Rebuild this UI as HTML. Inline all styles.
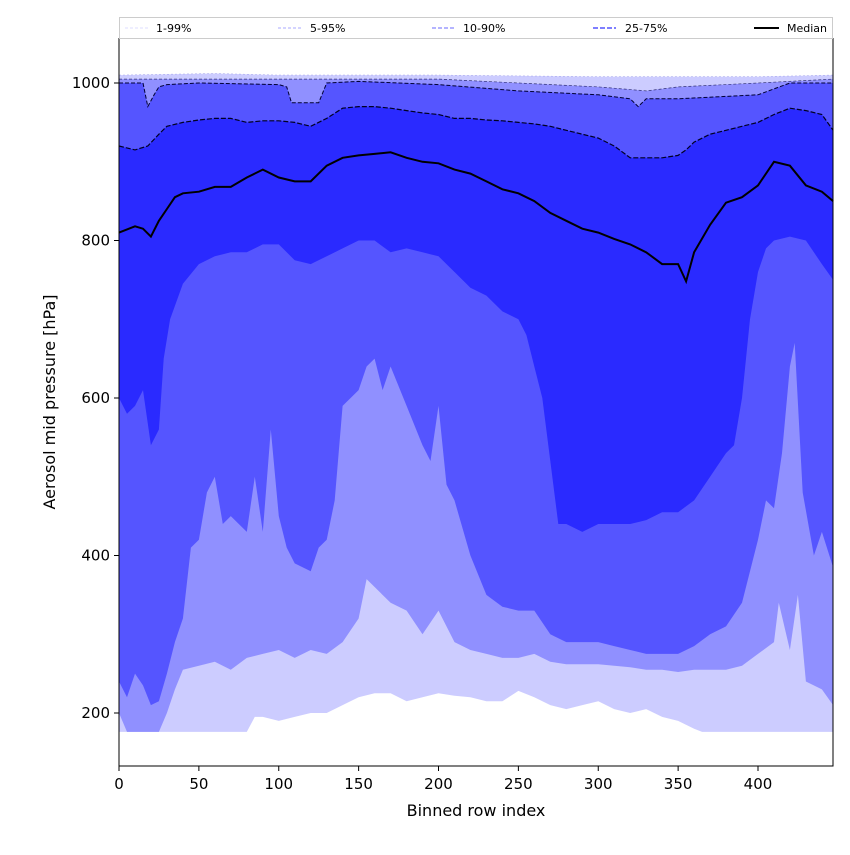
<!DOCTYPE html>
<html><head><meta charset="utf-8"><style>
body{margin:0;background:#fff;}
svg text{font-family:"DejaVu Sans","Liberation Sans",sans-serif;}
</style></head><body>
<svg id="c" width="850" height="850" xmlns="http://www.w3.org/2000/svg">
<g id="bands"></g>
<g id="lines"></g>
<rect x="119" y="38.5" width="714" height="727.5" fill="none" stroke="#000" stroke-width="1"/>
<g id="axes"></g>
<text x="476" y="816" font-size="16" text-anchor="middle">Binned row index</text>
<text transform="translate(55,402) rotate(-90)" font-size="16" text-anchor="middle">Aerosol mid pressure [hPa]</text>
<g>
<rect x="119.5" y="17.5" width="713" height="21" fill="#fff" stroke="#ccc"/>
<g><line x1="125" y1="28" x2="148" y2="28" stroke="#dcdcff" stroke-dasharray="3,2"/><text x="156" y="32" font-size="11">1-99%</text></g>
<g><line x1="278" y1="28" x2="301" y2="28" stroke="#aaaaff" stroke-dasharray="3,2"/><text x="310" y="32" font-size="11">5-95%</text></g>
<g><line x1="432" y1="28" x2="455" y2="28" stroke="#8888ff" stroke-width="1.3" stroke-dasharray="4,2"/><text x="463" y="32" font-size="11">10-90%</text></g>
<g><line x1="593" y1="28" x2="616" y2="28" stroke="#5555ff" stroke-width="1.6" stroke-dasharray="5,2"/><text x="625" y="32" font-size="11">25-75%</text></g>
<g><line x1="754" y1="28" x2="779" y2="28" stroke="#000" stroke-width="2"/><text x="787" y="32" font-size="11">Median</text></g>
</g>
</svg>
<script>
const xTicks=[0,50,100,150,200,250,300,350,400];
const yTicks=[200,400,600,800,1000];
const medX=[0,10,15,20,25,30,35,40,50,60,70,80,90,100,110,120,130,140,150,160,170,180,190,200,210,220,230,240,250,260,270,280,290,300,310,320,330,340,350,355,360,370,380,390,400,410,420,430,440,447];
const medV=[810,818,815,805,825,840,855,860,862,868,868,880,890,880,875,875,895,905,908,910,912,905,900,898,890,885,875,865,860,850,835,825,815,810,802,795,785,770,770,748,785,820,848,855,870,900,895,870,862,850];
const p75X=[0,10,18,25,30,40,50,60,70,80,90,100,110,120,130,140,150,160,170,180,190,200,210,220,230,240,250,260,270,280,290,300,310,320,330,340,350,355,360,370,380,390,400,410,420,430,440,447];
const p75V=[920,915,920,935,945,950,953,955,955,950,952,952,950,945,955,968,970,970,968,965,962,960,955,955,953,952,950,948,945,940,935,930,920,905,905,905,908,915,925,935,940,945,950,960,968,965,960,940];
const p90X=[0,15,18,22,25,30,50,100,105,108,112,125,130,150,200,250,300,320,325,330,350,400,420,447];
const p90V=[1000,1000,970,985,995,998,1000,998,995,975,975,975,1000,1002,998,990,985,980,970,980,980,985,1000,1000];
const p95X=[0,100,200,250,300,330,350,400,447];
const p95V=[1005,1005,1005,1000,995,990,995,1000,1005];
const p99X=[0,60,100,200,300,400,447];
const p99V=[1010,1012,1010,1010,1008,1008,1010];
const p25X=[0,5,10,15,20,25,28,32,40,50,60,70,80,90,100,110,120,130,140,150,160,170,180,190,200,210,220,230,240,250,255,260,265,270,275,280,290,300,310,320,330,340,350,360,370,380,385,390,395,400,405,410,420,430,440,447];
const p25V=[600,580,590,610,540,560,650,700,745,770,780,785,785,795,795,775,770,780,790,800,800,785,790,785,780,760,740,730,710,700,680,640,600,520,440,440,430,440,440,440,445,455,455,470,500,530,540,600,700,760,790,800,805,800,770,750];
const p10X=[0,5,10,15,20,25,30,35,40,45,50,55,60,65,70,80,85,90,95,100,105,110,120,125,130,135,140,150,155,160,165,170,180,190,195,200,205,210,220,230,240,250,260,270,280,290,300,310,320,330,340,350,360,370,380,390,395,400,405,410,415,420,423,428,435,440,447];
const p10V=[240,220,250,235,210,215,250,290,320,410,420,480,500,440,450,430,500,430,560,450,410,390,380,410,420,470,590,610,640,650,610,640,590,540,520,590,490,470,400,350,335,330,330,300,290,290,290,285,280,275,275,275,285,300,310,340,380,420,470,460,530,640,670,480,400,430,385];
const p5X=[0,5,10,20,25,30,35,40,50,60,70,80,90,100,110,120,130,140,150,155,160,170,180,190,200,210,220,230,240,250,260,270,280,290,300,310,320,330,340,350,360,370,380,390,400,410,413,420,425,430,440,447];
const p5V=[200,176,176,176,176,200,230,255,260,265,255,270,275,280,270,280,275,290,320,370,360,340,330,300,330,290,280,275,270,270,275,265,262,262,262,260,258,255,255,252,255,255,255,260,275,290,340,280,350,240,230,210];
const p1X=[0,80,85,90,100,110,120,130,140,150,160,170,180,190,200,210,220,230,240,250,260,270,280,290,300,310,320,330,340,350,360,365,447];
const p1V=[176,176,195,195,190,195,200,200,210,220,225,225,215,220,225,222,220,215,215,228,220,210,205,210,215,205,200,205,195,190,180,176,176];

const NS='http://www.w3.org/2000/svg';
function xs(v){return 119+v*1.5975;}
function ys(v){return 83+(1000-v)*0.7875;}
function pts(X,V){return X.map((x,i)=>xs(x).toFixed(1)+','+ys(V[i]).toFixed(1));}
const bands=document.getElementById('bands');
function band(uX,uV,lX,lV,fill,name){
  const p=document.createElementNS(NS,'polygon');
  p.setAttribute('points',pts(uX,uV).concat(pts(lX,lV).reverse()).join(' '));
  p.setAttribute('fill',fill);
  
  
  bands.appendChild(p);
}
band(p99X,p99V,p1X,p1V,'#ccccff','band-1-99');
band(p95X,p95V,p5X,p5V,'#9090ff','band-5-95');
band(p90X,p90V,p10X,p10V,'#5555ff','band-10-90');
band(p75X,p75V,p25X,p25V,'#2a2aff','band-25-75');
const lines=document.getElementById('lines');
function line(X,V,stroke,w,dash,name){
  const p=document.createElementNS(NS,'polyline');
  p.setAttribute('points',pts(X,V).join(' '));
  p.setAttribute('fill','none');p.setAttribute('stroke',stroke);p.setAttribute('stroke-width',w);
  if(dash)p.setAttribute('stroke-dasharray',dash);
  
  
  lines.appendChild(p);
}
line(p99X,p99V,'#aaaaee',0.6,'2,2','line-p99');
line(p95X,p95V,'#333377',0.7,'3,2','line-p95');
line(p90X,p90V,'#000033',1,'4,2','line-p90');
line(p75X,p75V,'#000022',1.2,'5,2','line-p75');
line(medX,medV,'#000',2,null,'median-line');
const axes=document.getElementById('axes');
xTicks.forEach(t=>{
  const l=document.createElementNS(NS,'line');
  l.setAttribute('x1',xs(t));l.setAttribute('x2',xs(t));l.setAttribute('y1',766);l.setAttribute('y2',771);l.setAttribute('stroke','#000');
  
  
  axes.appendChild(l);
  const tx=document.createElementNS(NS,'text');
  tx.setAttribute('x',xs(t));tx.setAttribute('y',789);tx.setAttribute('font-size','15');tx.setAttribute('text-anchor','middle');
  tx.textContent=t;
  
  
  axes.appendChild(tx);
});
yTicks.forEach(t=>{
  const l=document.createElementNS(NS,'line');
  l.setAttribute('x1',114);l.setAttribute('x2',119);l.setAttribute('y1',ys(t));l.setAttribute('y2',ys(t));l.setAttribute('stroke','#000');
  
  
  axes.appendChild(l);
  const tx=document.createElementNS(NS,'text');
  tx.setAttribute('x',110);tx.setAttribute('y',ys(t)+5);tx.setAttribute('font-size','15');tx.setAttribute('text-anchor','end');
  tx.textContent=t;
  
  
  axes.appendChild(tx);
});
</script>
</body></html>
